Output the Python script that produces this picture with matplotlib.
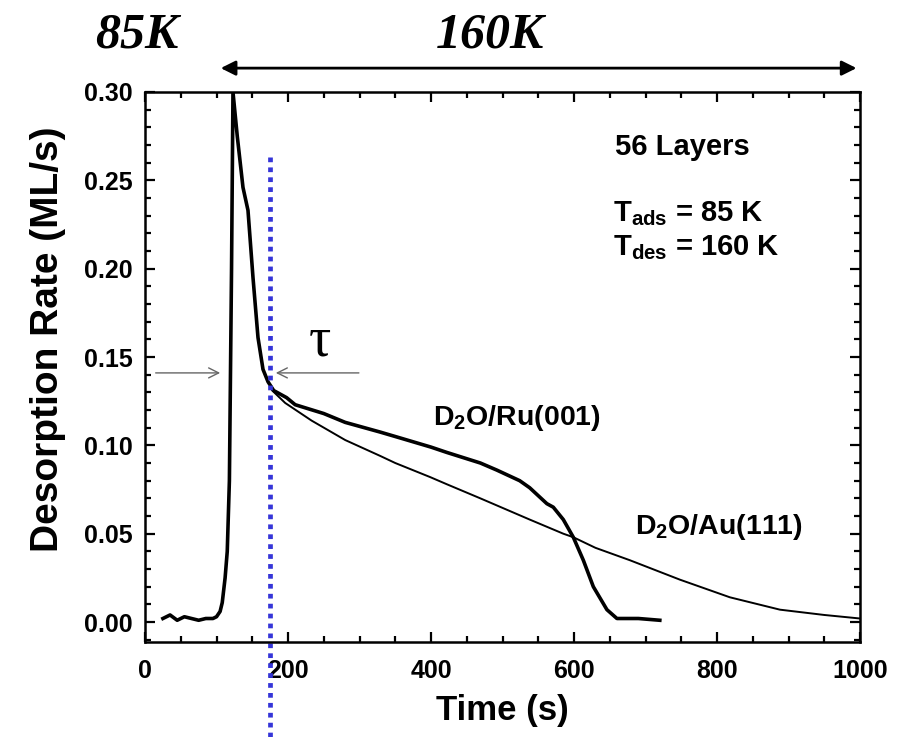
import matplotlib
matplotlib.use('Agg')
import matplotlib.pyplot as plt
from matplotlib.ticker import MultipleLocator

# D2O/Ru(001) desorption trace
ru_time = [25, 35, 45, 55, 65, 75, 85, 95, 100, 105, 108, 112, 115, 118, 121, 123,
           129, 137, 144, 151, 158, 165, 172, 180, 198, 210, 250, 280, 329, 350,
           400, 422, 469, 492, 524, 538, 562, 571, 585, 599, 613, 627, 646, 660,
           690, 720]
ru_rate = [0.002, 0.004, 0.001, 0.003, 0.002, 0.001, 0.002, 0.002, 0.003, 0.006,
           0.011, 0.025, 0.040, 0.080, 0.200, 0.300, 0.275, 0.246, 0.233, 0.195,
           0.161, 0.143, 0.136, 0.131, 0.127, 0.123, 0.118, 0.113, 0.1075, 0.105,
           0.099, 0.096, 0.090, 0.086, 0.080, 0.076, 0.067, 0.065, 0.058, 0.048,
           0.035, 0.020, 0.007, 0.002, 0.002, 0.001]

# D2O/Au(111) trace, splits off the Ru curve just after the peak
au_time = [178, 196, 233, 280, 329, 350, 399, 422, 469, 515, 538, 585, 599, 630,
           678, 748, 818, 888, 950, 1000]
au_rate = [0.131, 0.124, 0.114, 0.103, 0.094, 0.090, 0.082, 0.078, 0.070, 0.062,
           0.058, 0.050, 0.048, 0.042, 0.035, 0.024, 0.014, 0.007, 0.004, 0.002]

tau_time = 175
tau_level = 0.141
switch_time = 102  # 85K -> 160K

plt.rcParams['font.family'] = ['Liberation Sans', 'DejaVu Sans']
plt.rcParams['font.weight'] = 'bold'
plt.rcParams['mathtext.fontset'] = 'custom'
plt.rcParams['mathtext.rm'] = 'Liberation Sans:bold'
plt.rcParams['mathtext.bf'] = 'Liberation Sans:bold'
plt.rcParams['mathtext.it'] = 'Liberation Sans:bold'

fig = plt.figure(figsize=(8.98, 7.37), dpi=100)
ax = fig.add_axes([0.1615, 0.1289, 0.7962, 0.7463])

ax.plot(ru_time, ru_rate, color='black', lw=2.6, solid_joinstyle='round')
ax.plot(au_time, au_rate, color='black', lw=1.4)

ax.set_xlim(0, 1000)
ax.set_ylim(-0.0113, 0.30)
ax.xaxis.set_major_locator(MultipleLocator(200))
ax.xaxis.set_minor_locator(MultipleLocator(50))
ax.yaxis.set_major_locator(MultipleLocator(0.05))
ax.yaxis.set_minor_locator(MultipleLocator(0.01))
ax.yaxis.set_major_formatter(matplotlib.ticker.FormatStrFormatter('%.2f'))
ax.tick_params(which='both', direction='in', top=True, right=True, width=1.6)
ax.tick_params(which='major', length=7, labelsize=18)
ax.tick_params(which='minor', length=4)
ax.tick_params(axis='x', pad=12)
ax.tick_params(axis='y', pad=9)
for s in ax.spines.values():
    s.set_linewidth(1.8)

ax.set_xlabel('Time (s)', fontsize=25, fontweight='bold', labelpad=8)
ax.set_ylabel('Desorption Rate (ML/s)', fontsize=28, fontweight='bold')
ax.yaxis.set_label_coords(-0.11, 0.55)

# annotations inside the axes
ax.text(657, 0.269, '56 Layers', fontsize=21, va='center')
ax.text(655, 0.231, r'T$_{\mathregular{ads}}$ = 85 K', fontsize=21, va='center')
ax.text(655, 0.212, r'T$_{\mathregular{des}}$ = 160 K', fontsize=21, va='center')
ax.text(403, 0.1155, r'D$_2$O/Ru(001)', fontsize=20.5, va='center')
ax.text(685, 0.054, r'D$_2$O/Au(111)', fontsize=20.5, va='center')

# tau marker arrows
ax.annotate('', xy=(109, tau_level), xytext=(11, tau_level),
            arrowprops=dict(arrowstyle='->', color='#666666', lw=1.0, mutation_scale=18))
ax.annotate('', xy=(179, tau_level), xytext=(303, tau_level),
            arrowprops=dict(arrowstyle='->', color='#666666', lw=1.0, mutation_scale=18))
ax.text(245, 0.159, '\u03c4', fontsize=40, ha='center', va='center',
        family='Liberation Serif', fontweight='normal')

# blue dotted line at tau, runs below the axes
ax.plot([tau_time, tau_time], [0.263, -0.066], color='#3535d8', lw=3.4,
        linestyle=(0, (1, 1.1)), clip_on=False)

# temperature step arrow and labels
ax.annotate('', xy=(999, 0.3135), xytext=(switch_time, 0.3135),
            arrowprops=dict(arrowstyle='<|-|>', color='black', lw=2.0, mutation_scale=22),
            annotation_clip=False)
fig.text(137 / 898, 1 - 35 / 737, '85K', fontsize=36, family='Liberation Serif',
         style='italic', fontweight='bold', ha='center', va='center')
fig.text(490 / 898, 1 - 35 / 737, '160K', fontsize=36, family='Liberation Serif',
         style='italic', fontweight='bold', ha='center', va='center')

fig.savefig('out.png', dpi=100)
